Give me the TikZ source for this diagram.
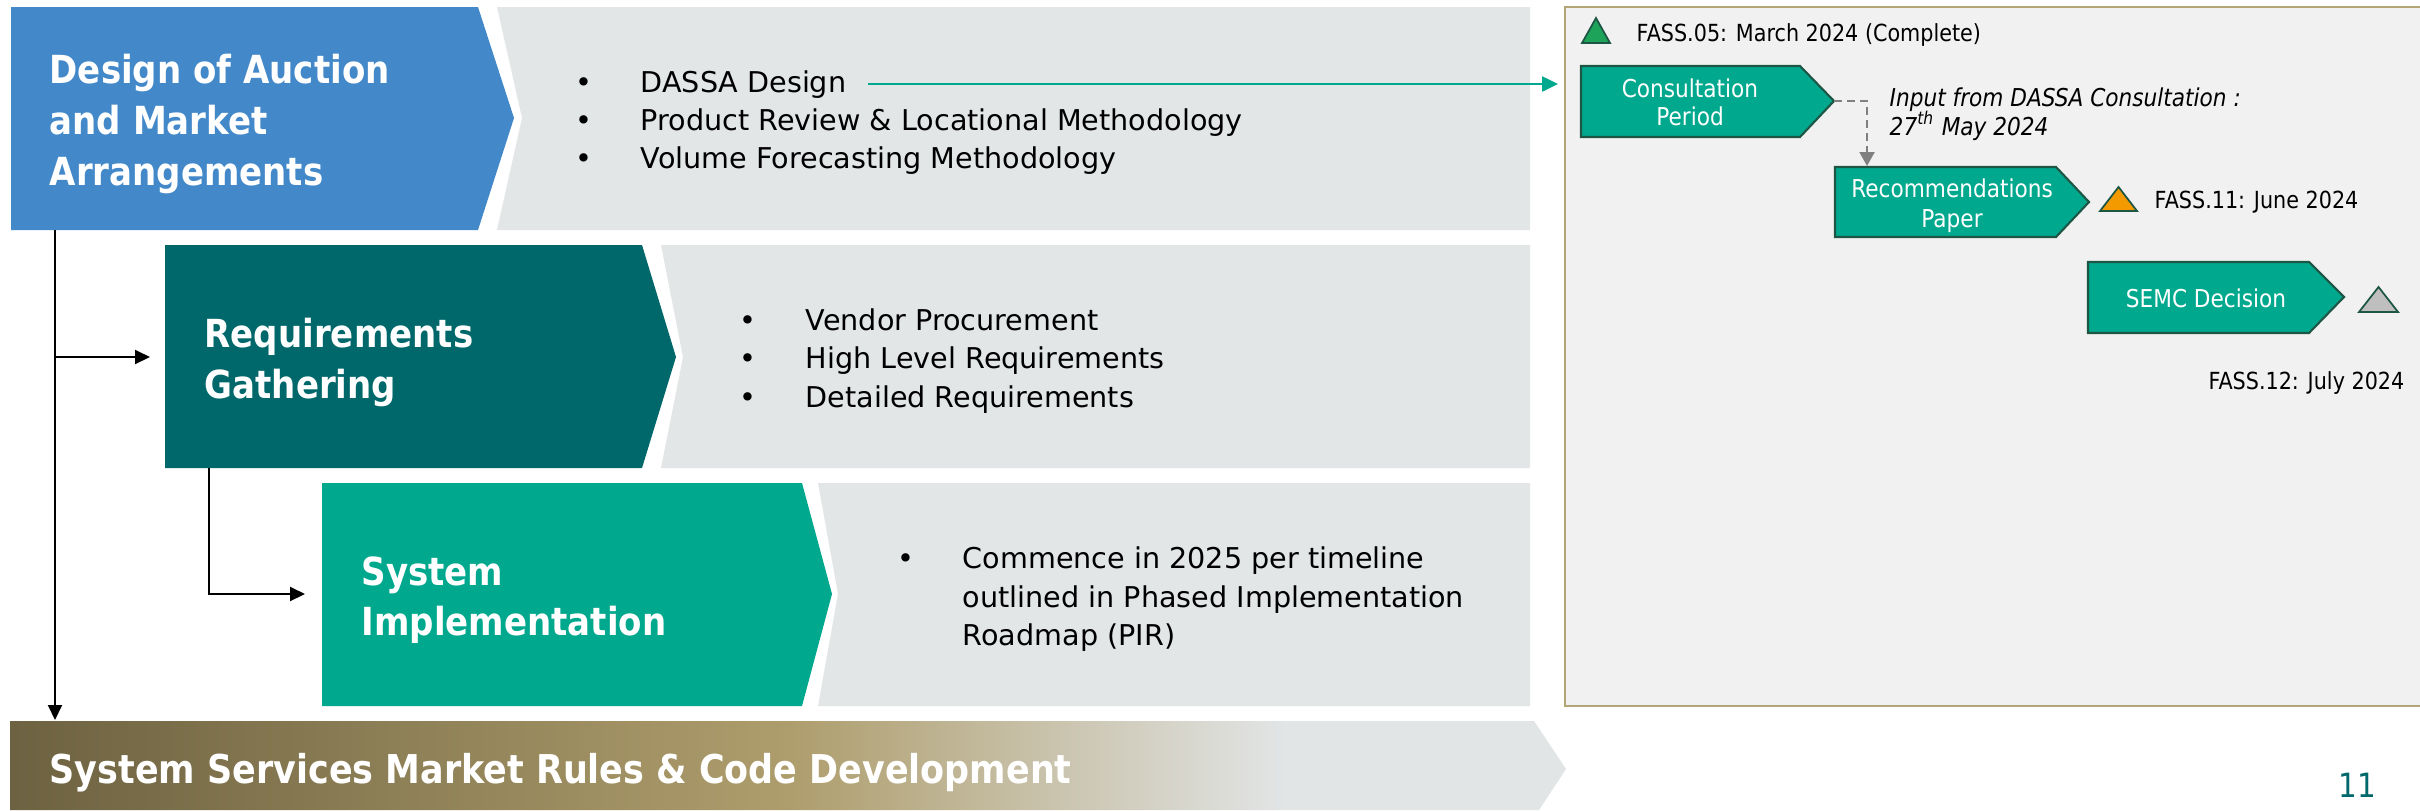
\documentclass[tikz,border=0pt]{standalone}
\usepackage{fontspec}
\setmainfont{DejaVu Sans}[FakeStretch=0.88]
\newfontfamily\bodyfont{DejaVu Sans}[FakeStretch=1.0]
\usetikzlibrary{arrows.meta}
\definecolor{cblue}{HTML}{4389C9}
\definecolor{cdteal}{HTML}{00676A}
\definecolor{cteal}{HTML}{00A88E}
\definecolor{cgraybox}{HTML}{E2E6E7}
\definecolor{cpanel}{HTML}{F1F1F1}
\definecolor{cpanelborder}{HTML}{B3A575}
\definecolor{cchevline}{HTML}{1E5646}
\definecolor{cgreentri}{HTML}{1DA35A}
\definecolor{corangetri}{HTML}{F39A00}
\definecolor{cgreytri}{HTML}{BFBFBF}
\definecolor{cdash}{HTML}{808080}
\definecolor{barA}{HTML}{6D6241}
\definecolor{barB}{HTML}{AE9D6C}
\definecolor{barC}{HTML}{E2E5E6}
\pgfdeclarehorizontalshading{barshade}{100bp}{color(0bp)=(barA); color(25bp)=(barA); color(50bp)=(barB); color(66bp)=(barC); color(100bp)=(barC)}
\tikzset{
  head/.style={font=\bfseries\fontsize{11}{14}\selectfont, text=white, anchor=base west, inner sep=0},
  body/.style={font=\bodyfont\fontsize{8.15}{10}\selectfont, anchor=base west, inner sep=0},
  bul/.style={font=\bodyfont\fontsize{8.15}{10}\selectfont, anchor=base, inner sep=0},
  ptext/.style={font=\fontsize{6.7}{9}\selectfont, anchor=base west, inner sep=0},
  chevtext/.style={font=\fontsize{7}{9}\selectfont, text=white, anchor=base, inner sep=0},
  chev/.style={fill=cteal, draw=cchevline, line width=0.6pt, line join=miter},
  tri/.style={draw=cchevline, line width=0.5pt, line join=miter},
  conn/.style={line width=0.55pt, -{Triangle[length=1.5mm, width=1.4mm]}},
  tealconn/.style={draw=cteal, line width=0.7pt, -{Triangle[length=1.6mm, width=1.5mm]}},
  dashconn/.style={draw=cdash, line width=0.6pt, dash pattern=on 0.8mm off 0.5mm, -{Triangle[length=1.4mm, width=1.5mm]}}
}
\begin{document}
\begin{tikzpicture}[x=0.1mm, y=-0.1mm]
\useasboundingbox[fill=white] (0,0) rectangle (2420,810);

% ---- left stages ----
\fill[cblue] (11,7) -- (478,7) -- (514,118) -- (478,230) -- (11,230) -- cycle;
\fill[cgraybox] (497,7) -- (1530,7) -- (1530,230) -- (497,230) -- (522,118) -- cycle;

\fill[cdteal] (165,245) -- (642,245) -- (676,357) -- (642,468) -- (165,468) -- cycle;
\fill[cgraybox] (661,245) -- (1530,245) -- (1530,468) -- (661,468) -- (683,357) -- cycle;

\fill[cteal] (322,483) -- (802,483) -- (832,594) -- (802,706) -- (322,706) -- cycle;
\fill[cgraybox] (818,483) -- (1530,483) -- (1530,706) -- (818,706) -- (838,594) -- cycle;

\shade[shading=barshade] (10,721) -- (1534,721) -- (1566,769) -- (1539,810) -- (10,810) -- cycle;

% headings
\node[head] (h1a) at (49,83) {Design of Auction};
\node[head] (h1b) at (49,134) {and Market};
\node[head] (h1c) at (49,185) {Arrangements};
\node[head] (h2a) at (204,347) {Requirements};
\node[head] (h2b) at (204,398) {Gathering};
\node[head] (h3a) at (361,585) {System};
\node[head] (h3b) at (361,635) {Implementation};
\node[head, font=\bfseries\fontsize{11.3}{14}\selectfont] (h4) at (49,783) {System Services Market Rules \& Code Development};

% bullets box 1
\node[bul] (b1a) at (584,92) {•};
\node[bul] (b1b) at (584,130) {•};
\node[bul] (b1c) at (584,168) {•};
\node[body] (dassa) at (640,92) {DASSA Design};
\node[body] (prod) at (640,130) {Product Review \& Locational Methodology};
\node[body] (vol) at (640,168) {Volume Forecasting Methodology};
% bullets box 2
\node[bul] (b2a) at (748,330) {•};
\node[bul] (b2b) at (748,368) {•};
\node[bul] (b2c) at (748,407) {•};
\node[body] (vend) at (805,330) {Vendor Procurement};
\node[body] (hlr) at (805,368) {High Level Requirements};
\node[body] (dreq) at (805,407) {Detailed Requirements};
% bullets box 3
\node[bul] (b3a) at (906,568) {•};
\node[body] (comm1) at (962,568) {Commence in 2025 per timeline};
\node[body] (comm2) at (962,607) {outlined in Phased Implementation};
\node[body] (comm3) at (962,645) {Roadmap (PIR)};

% connectors left
\coordinate (damfoot) at (55,230);
\coordinate (barhead) at (55,720);
\coordinate (branch) at (55,357);
\coordinate (reqin) at (150,357);
\coordinate (reqfoot) at (209,468);
\coordinate (sysin) at (305,594);
\draw[conn] (damfoot) -- (barhead);
\draw[conn] (branch) -- (reqin);
\draw[conn] (reqfoot) |- (sysin);

% ---- right panel ----
\filldraw[fill=cpanel, draw=cpanelborder, line width=0.7pt] (1565,7) rectangle (2440,706);

\coordinate (dassaEnd) at (868,84);
\coordinate (panelin) at (1558,84);
\draw[tealconn] (dassaEnd) -- (panelin);

\filldraw[tri, fill=cgreentri] (1582,43) -- (1610,43) -- (1596,18) -- cycle;
\node[ptext] (fass05) at (1636,41) {FASS.05: March 2024 (Complete)};

\draw[chev] (1581,66) -- (1800,66) -- (1834,101) -- (1800,137) -- (1581,137) -- cycle;
\coordinate (consTip) at (1834,101);
\node[chevtext] (cons1) at (1690,97) {Consultation};
\node[chevtext] (cons2) at (1690,125) {Period};

\node[ptext, font=\itshape\fontsize{7}{9}\selectfont] (inp1) at (1889,106) {Input from DASSA Consultation :};
\node[ptext, font=\itshape\fontsize{7}{9}\selectfont] (inp2) at (1889,135) {27\textsuperscript{th} May 2024};

\draw[chev] (1835,167) -- (2056,167) -- (2089,202) -- (2056,237) -- (1835,237) -- cycle;
\coordinate (recTop) at (1867,166);
\node[chevtext] (rec1) at (1952,197) {Recommendations};
\node[chevtext] (rec2) at (1952,227) {Paper};
\draw[dashconn] (consTip) -| (recTop);

\filldraw[tri, fill=corangetri] (2100,211) -- (2137,211) -- (2118.5,187) -- cycle;
\node[ptext] (fass11) at (2154,208) {FASS.11: June 2024};

\draw[chev] (2088,262) -- (2309,262) -- (2344,297) -- (2309,333) -- (2088,333) -- cycle;
\node[chevtext] (semc) at (2206,307) {SEMC Decision};

\filldraw[tri, fill=cgreytri] (2359,312) -- (2398,312) -- (2378.5,287) -- cycle;
\node[ptext, anchor=base east] (fass12) at (2405,389) {FASS.12: July 2024};

% page number
\node[font=\fontsize{9.5}{10}\selectfont, text=cdteal, anchor=base, inner sep=0] (pgno) at (2357,797) {11};
\end{tikzpicture}
\end{document}
